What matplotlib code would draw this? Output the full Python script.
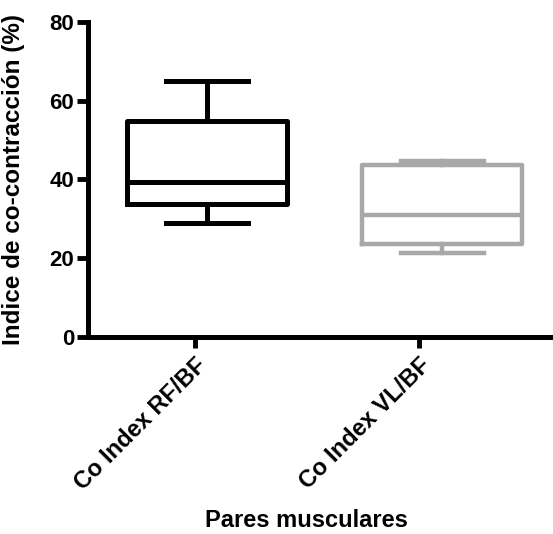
import matplotlib
matplotlib.use("Agg")
import matplotlib.pyplot as plt

plt.rcParams["font.family"] = ["Liberation Sans", "DejaVu Sans"]
plt.rcParams["font.weight"] = "bold"

categories = ["Co Index RF/BF", "Co Index VL/BF"]
whislo = [29.0, 21.4]
q1 = [33.8, 23.5]
med = [39.4, 31.0]
q3 = [54.9, 43.7]
whishi = [65.0, 44.8]
colors = ["#000000", "#a8a8a8"]
widths = [3.6, 3.2]


def box_stats():
    stats = []
    for i, name in enumerate(categories):
        stats.append({"label": name, "whislo": whislo[i], "q1": q1[i], "med": med[i],
                      "q3": q3[i], "whishi": whishi[i], "fliers": []})
    return stats


fig = plt.figure(figsize=(5.53, 5.34), dpi=100)
ax = fig.add_axes([0.159, 0.369, 0.841, 0.59])

positions = [1, 2]
for i, st in enumerate(box_stats()):
    c = colors[i]
    lw = widths[i]
    ax.bxp([st], positions=[positions[i]], widths=0.68, showfliers=False,
           boxprops=dict(color=c, linewidth=lw),
           whiskerprops=dict(color=c, linewidth=lw),
           capprops=dict(color=c, linewidth=lw),
           medianprops=dict(color=c, linewidth=lw),
           capwidths=0.35, manage_ticks=False)

ax.set_xlim(0.494, 2.47)
ax.set_ylim(0, 80)
ax.set_yticks([0, 20, 40, 60, 80])
ax.set_xticks([0.95, 1.9])
ax.set_xticklabels(categories, rotation=45, ha="right", rotation_mode="anchor",
                   fontsize=17, fontweight="bold")
ax.tick_params(axis="y", labelsize=16, width=3.5, length=8, pad=2)
ax.tick_params(axis="x", width=3.5, length=8, pad=4)
for lab in ax.get_yticklabels():
    lab.set_fontweight("bold")

for side in ["top", "right"]:
    ax.spines[side].set_visible(False)
for side in ["left", "bottom"]:
    ax.spines[side].set_linewidth(3.6)
    ax.spines[side].set_capstyle("projecting")

ax.set_ylabel("Indice de co-contracción (%)", fontsize=17.5, fontweight="bold")
ax.yaxis.set_label_coords(-0.135, 0.5)
ax.set_xlabel("Pares musculares", fontsize=17, fontweight="bold")
ax.xaxis.set_label_coords(0.469, -0.545)

fig.savefig("out.png", dpi=100)
